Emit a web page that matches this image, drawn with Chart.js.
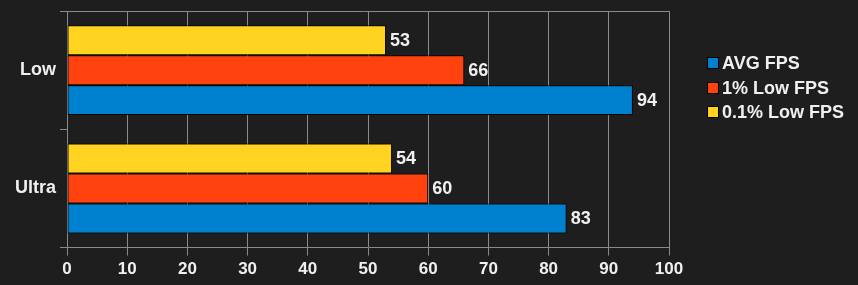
<!DOCTYPE html>
<html>
<head>
<meta charset="utf-8">
<script src="https://cdn.jsdelivr.net/npm/chart.js@4/dist/chart.umd.min.js"></script>
<style>
  html, body { margin: 0; padding: 0; background: #1e1e1e; }
  #wrap { width: 858px; height: 285px; }
</style>
</head>
<body>
<div id="wrap"><canvas id="chart" width="858" height="285"></canvas></div>
<script>
// presets in display order (top to bottom)
const presets = ['Low', 'Ultra'];
const avgFps = [94, 83];
const low1Fps = [66, 60];
const low01Fps = [53, 54];
const xTicks = [0, 10, 20, 30, 40, 50, 60, 70, 80, 90, 100];

const COLORS = { blue: '#0081cf', red: '#ff420e', yellow: '#ffd320', grid: '#8a8a8a', text: '#f0f0f0' };
const FONT = "'Liberation Sans', Arial, sans-serif";

// values at bar ends
const valueLabels = {
    id: 'valueLabels',
    afterDatasetsDraw(chart) {
        const ctx = chart.ctx;
        ctx.save();
        ctx.font = 'bold 18px ' + FONT;
        ctx.fillStyle = COLORS.text;
        ctx.textBaseline = 'middle';
        chart.data.datasets.forEach((ds, i) => {
            chart.getDatasetMeta(i).data.forEach((bar, j) => {
                ctx.fillText(ds.data[j], bar.x + 4, bar.y + 1);
            });
        });
        ctx.restore();
    }
};

// top line of the plot + legend on the right (AVG first, like the original)
const extras = {
    id: 'extras',
    beforeDatasetsDraw(chart) {
        const a = chart.chartArea, ctx = chart.ctx;
        ctx.save();
        ctx.strokeStyle = COLORS.grid;
        ctx.lineWidth = 1;
        ctx.beginPath();
        ctx.moveTo(a.left - 7, Math.round(a.top) + 0.5);
        ctx.lineTo(a.right, Math.round(a.top) + 0.5);
        ctx.stroke();
        ctx.restore();
    },
    afterDraw(chart) {
        const ctx = chart.ctx;
        const items = chart.data.datasets.slice().reverse();
        ctx.save();
        ctx.font = 'bold 18px ' + FONT;
        ctx.textBaseline = 'middle';
        items.forEach((ds, i) => {
            const y = Math.round(63 + i * 24.5);
            ctx.fillStyle = ds.backgroundColor;
            ctx.fillRect(708, y - 5, 10, 10);
            ctx.strokeStyle = '#000';
            ctx.lineWidth = 1;
            ctx.strokeRect(707.5, y - 5.5, 11, 11);
            ctx.fillStyle = COLORS.text;
            ctx.fillText(ds.label, 722, y + 1);
        });
        ctx.restore();
    }
};

new Chart(document.getElementById('chart'), {
    type: 'bar',
    data: {
        labels: presets,
        datasets: [
            { label: '0.1% Low FPS', data: low01Fps, backgroundColor: COLORS.yellow },
            { label: '1% Low FPS', data: low1Fps, backgroundColor: COLORS.red },
            { label: 'AVG FPS', data: avgFps, backgroundColor: COLORS.blue }
        ]
    },
    options: {
        indexAxis: 'y',
        responsive: false,
        animation: false,
        datasets: { bar: { borderColor: '#000', borderWidth: 1, borderSkipped: false, categoryPercentage: 0.76, barPercentage: 1 } },
        layout: { padding: { top: 11, right: 189, left: 11, bottom: 1 } },
        plugins: {
            tooltip: { enabled: false },
            legend: { display: false }
        },
        scales: {
            x: {
                min: 0, max: 100,
                afterBuildTicks: (s) => { s.ticks = xTicks.map(v => ({ value: v })); },
                grid: { color: COLORS.grid, tickLength: 8, lineWidth: 1 },
                border: { color: COLORS.grid },
                ticks: { color: COLORS.text, font: { family: FONT, size: 17, weight: 'bold' }, padding: 4 }
            },
            y: {
                afterFit: (s) => { s.paddingTop = 0; s.paddingBottom = 0; },
                grid: { offset: true, drawOnChartArea: false, color: COLORS.grid, tickLength: 7 },
                border: { display: false },
                ticks: { color: COLORS.text, font: { family: FONT, size: 18, weight: 'bold' }, padding: 4 }
            }
        }
    },
    plugins: [valueLabels, extras]
});
</script>
</body>
</html>
